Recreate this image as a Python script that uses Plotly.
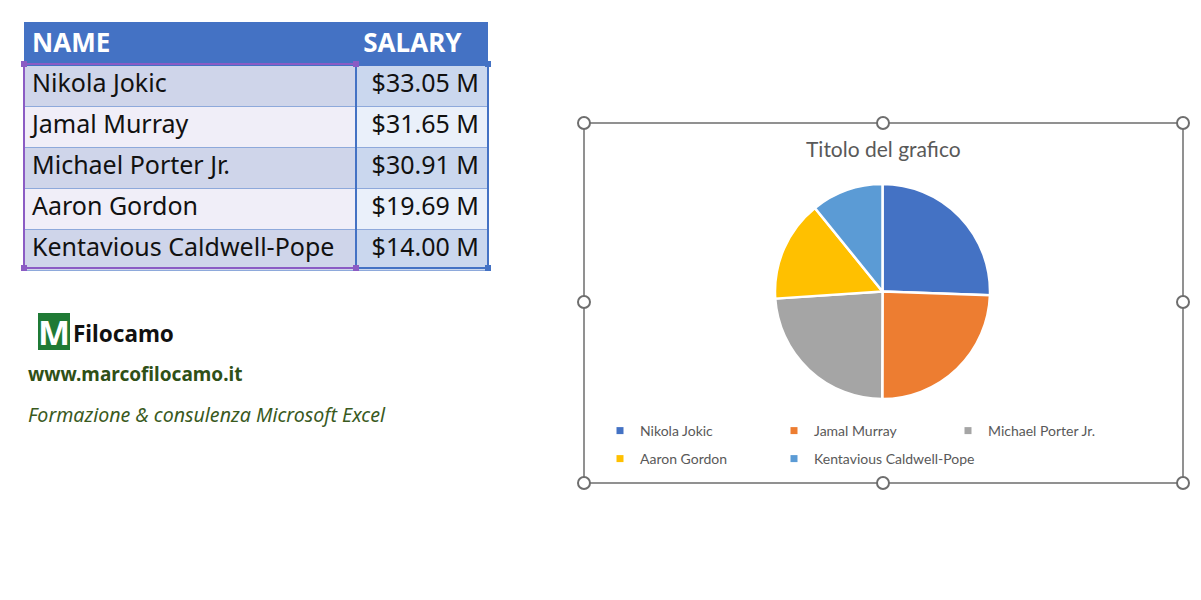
import plotly.graph_objects as go

# ---------------- data ----------------
players = ["Nikola Jokic", "Jamal Murray", "Michael Porter Jr.", "Aaron Gordon", "Kentavious Caldwell-Pope"]
salaries = [33.05, 31.65, 30.91, 19.69, 14.00]
header_labels = ["NAME", "SALARY"]
chart_title = "Titolo del grafico"
slice_colors = ["#4472C4", "#ED7D31", "#A5A5A5", "#FFC000", "#5B9BD5"]

# the page body has an 8px margin; work in window pixel coordinates
OFF = 8
W, H = 1201 - OFF, 600 - OFF
def px(x): return (x - OFF) / W
def py(y): return 1 - (y - OFF) / H

salary_text = [f"${v:.2f}\u00a0M" for v in salaries]

fig = go.Figure()

# ---------------- table ----------------
name_fill = ["#CFD5EA" if i % 2 == 0 else "#F0EEF8" for i in range(len(players))]
sal_fill = ["#CAD7EE" if i % 2 == 0 else "#EAF0FA" for i in range(len(players))]
fig.add_trace(go.Table(
    domain=dict(x=[px(24), px(488)], y=[py(274), py(24)]),
    columnwidth=[332, 132],
    header=dict(values=header_labels,
                fill_color="#4472C4", line=dict(color="#4472C4", width=1),
                font=dict(family="Noto Sans", size=26, color="white", weight="bold"),
                align=["left", "left"], height=41),
    cells=dict(values=[players, salary_text],
               fill_color=[name_fill, sal_fill],
               line=dict(color="#8EA9DB", width=1),
               font=dict(family="Noto Sans", size=25, color="#111111"),
               align=["left", "right"], height=41),
))
# header band above the shifted table top
fig.add_shape(type="rect", xref="paper", yref="paper", x0=px(24), x1=px(488), y0=py(25), y1=py(22),
              fillcolor="#4472C4", line=dict(width=0), layer="below")

# ---------------- pie ----------------
fig.add_trace(go.Pie(
    labels=players, values=salaries, sort=False, direction="clockwise", rotation=0,
    marker=dict(colors=slice_colors, line=dict(color="white", width=2.5)),
    textinfo="none", hoverinfo="label+value", showlegend=False,
    domain=dict(x=[px(775), px(990)], y=[py(399), py(184)]),
))

# legend entries (small square markers like Excel), split on two rows
for i, (name, col) in enumerate(zip(players, slice_colors)):
    fig.add_trace(go.Scatter(x=[None], y=[None], mode="markers", name=name,
                             legend="legend" if i < 3 else "legend2",
                             marker=dict(symbol="square", size=7, color=col)))
# empty third column on the second legend row so the last label is not clipped
fig.add_trace(go.Scatter(x=[None], y=[None], mode="markers", name="\u00a0", legend="legend2",
                         hoverinfo="skip", marker=dict(symbol="square", size=7, color="rgba(0,0,0,0)")))

fig.update_xaxes(visible=False)
fig.update_yaxes(visible=False)

shapes = list(fig.layout.shapes)
# selection borders on table
shapes.append(dict(type="rect", xref="paper", yref="paper", x0=px(24), x1=px(356), y0=py(268), y1=py(64),
                   line=dict(color="#8B5CC4", width=2), layer="above"))
shapes.append(dict(type="rect", xref="paper", yref="paper", x0=px(356), x1=px(488), y0=py(268), y1=py(64),
                   line=dict(color="#4472C4", width=2), layer="above"))
for (hx, hy, c) in [(24, 64, "#8B5CC4"), (356, 64, "#8B5CC4"), (24, 268, "#8B5CC4"), (356, 268, "#8B5CC4"),
                    (488, 64, "#4472C4"), (488, 268, "#4472C4")]:
    shapes.append(dict(type="rect", xref="paper", yref="paper", x0=px(hx - 3), x1=px(hx + 3),
                       y0=py(hy + 3), y1=py(hy - 3), fillcolor=c, line=dict(width=0), layer="above"))

# logo box
shapes.append(dict(type="rect", xref="paper", yref="paper", x0=px(38), x1=px(70), y0=py(350), y1=py(313),
                   fillcolor="#1F7A35", line=dict(width=0), layer="above"))

# chart frame and handles
shapes.append(dict(type="rect", xref="paper", yref="paper", x0=px(584), x1=px(1183), y0=py(483), y1=py(123),
                   line=dict(color="#6E6E6E", width=1.5), layer="below"))
for (hx, hy) in [(584, 123), (883, 123), (1183, 123), (584, 302), (1183, 302), (584, 483), (883, 483), (1183, 483)]:
    shapes.append(dict(type="circle", xref="paper", yref="paper", x0=px(hx - 6), x1=px(hx + 6),
                       y0=py(hy + 6), y1=py(hy - 6), fillcolor="white",
                       line=dict(color="#6E6E6E", width=2), layer="above"))
# side buttons (partially visible)
for (t, b) in [(121, 156), (168, 203), (215, 250)]:
    shapes.append(dict(type="rect", xref="paper", yref="paper", x0=px(1198), x1=px(1230), y0=py(b), y1=py(t),
                       line=dict(color="#6E6E6E", width=1), fillcolor="white", layer="above"))

annotations = [
    dict(text="<b>M</b>", x=px(54), y=py(332), xref="paper", yref="paper", showarrow=False,
         font=dict(family="Noto Sans", size=34, color="white"), xanchor="center", yanchor="middle",
         width=30, height=34, borderpad=0),
    dict(text="<b>Filocamo</b>", x=px(71), y=py(333), xref="paper", yref="paper", showarrow=False,
         font=dict(family="Noto Sans", size=22.5, color="#111111"), xanchor="left", yanchor="middle"),
    dict(text="<b>www.marcofilocamo.it</b>", x=px(26), y=py(374), xref="paper", yref="paper", showarrow=False,
         font=dict(family="Noto Sans", size=19, color="#2F5017"), xanchor="left", yanchor="middle"),
    dict(text="<i>Formazione & consulenza Microsoft Excel</i>", x=px(26), y=py(414), xref="paper", yref="paper",
         showarrow=False, font=dict(family="Noto Sans", size=19.6, color="#3A5A1E"), xanchor="left", yanchor="middle"),
    dict(text=chart_title, x=px(883), y=py(148), xref="paper", yref="paper", showarrow=False,
         font=dict(family="Lato", size=21, color="#595959"), xanchor="center", yanchor="middle"),
]

legend_common = dict(orientation="h", xanchor="left", yanchor="top",
                     entrywidth=129, entrywidthmode="pixels", itemwidth=30, tracegroupgap=0,
                     font=dict(family="Lato", size=14, color="#595959"), bgcolor="rgba(0,0,0,0)")

fig.update_layout(
    width=W, height=H, margin=dict(l=0, r=0, t=0, b=0),
    paper_bgcolor="white", plot_bgcolor="rgba(0,0,0,0)",
    shapes=shapes, annotations=annotations,
    legend=dict(x=px(600), y=py(415), **legend_common),
    legend2=dict(x=px(600), y=py(443), **legend_common),
)

fig.write_html("out.html")
